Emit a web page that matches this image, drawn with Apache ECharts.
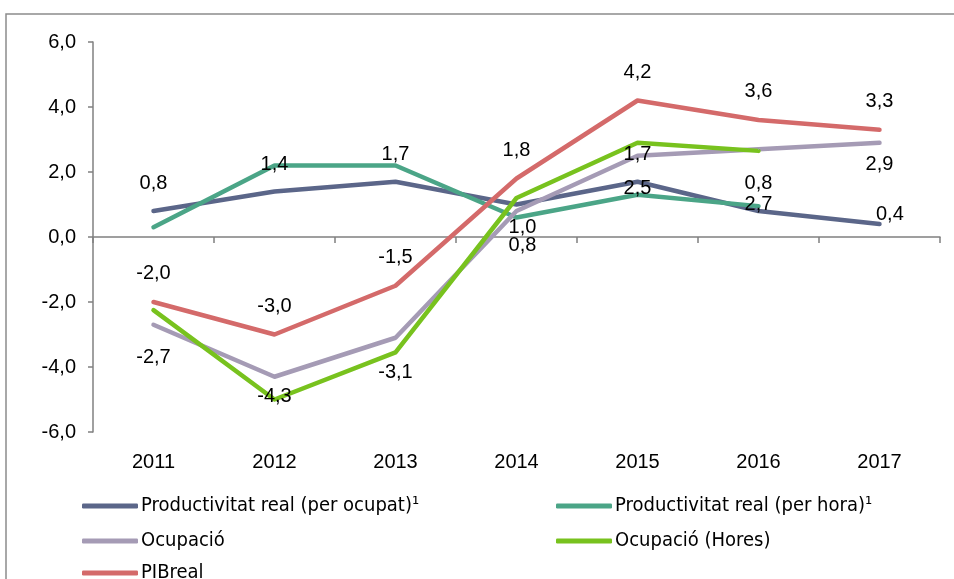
<!DOCTYPE html>
<html>
<head>
<meta charset="utf-8">
<script src="https://cdn.jsdelivr.net/npm/echarts@6/dist/echarts.min.js"></script>
<style>
  html, body { margin: 0; padding: 0; background: #fff; }
  #chartDom { width: 954px; height: 579px; }
</style>
</head>
<body>
<div id="chartDom"></div>
<script>
// dades
var years = ['2011', '2012', '2013', '2014', '2015', '2016', '2017'];
var prodOcupat = [0.8, 1.4, 1.7, 1.0, 1.7, 0.8, 0.4];
var prodHora = [0.3, 2.2, 2.2, 0.6, 1.3, 0.95, null];
var ocupacio = [-2.7, -4.3, -3.1, 0.8, 2.5, 2.7, 2.9];
var ocupacioHores = [-2.25, -5.0, -3.55, 1.2, 2.9, 2.65, null];
var pibReal = [-2.0, -3.0, -1.5, 1.8, 4.2, 3.6, 3.3];
var yTicks = [-6, -4, -2, 0, 2, 4, 6];

var noms = ['Productivitat real (per ocupat)¹', 'Productivitat real (per hora)¹', 'Ocupació', 'Ocupació (Hores)', 'PIBreal'];

function fmt(v) {
  return v.toFixed(1).replace('.', ',');
}

// etiquetes posades a mà (com a l'Excel)
function withLabels(values, pos, dist, special) {
  return values.map(function (v, i) {
    var item = { value: v };
    var s = special && special[i];
    if (s) {
      item.label = { position: s.position || pos, distance: s.distance != null ? s.distance : dist, offset: s.offset || [0, 0] };
    }
    return item;
  });
}

var labelFont = { color: '#000', fontSize: 20, fontFamily: 'Liberation Sans, Arial, sans-serif' };

function lineSeries(name, color, data, showLabel, pos, dist) {
  return {
    name: name,
    type: 'line',
    data: data,
    symbol: 'circle',
    symbolSize: 1,
    connectNulls: false,
    itemStyle: { color: color },
    lineStyle: { color: color, width: 4.5, cap: 'round', join: 'round' },
    label: Object.assign({
      show: showLabel,
      position: pos || 'top',
      distance: dist == null ? 17 : dist,
      formatter: function (p) { return fmt(p.value); }
    }, labelFont),
    emphasis: { disabled: true }
  };
}

// una llegenda per element, en dues columnes
function legendItem(name, left, top) {
  return {
    left: left, top: top, padding: 0,
    icon: 'roundRect', itemWidth: 56, itemHeight: 5,
    textStyle: { fontSize: 20, fontFamily: 'DejaVu Sans Condensed, Liberation Sans, sans-serif', color: '#000', padding: [0, 0, 0, -2] },
    data: [name]
  };
}

var chartDom = document.getElementById('chartDom');
var myChart = echarts.init(chartDom);
var option = {
  animation: false,
  graphic: [{
    type: 'rect',
    shape: { x: 6, y: 14, width: 1000, height: 700 },
    style: { fill: 'none', stroke: '#8c8c8c', lineWidth: 1.5 },
    silent: true
  }],
  grid: { left: 93, right: 14, top: 42, bottom: 147 },
  legend: [
    legendItem(noms[0], 82, 496),
    legendItem(noms[1], 556, 496),
    legendItem(noms[2], 82, 531),
    legendItem(noms[3], 556, 531),
    legendItem(noms[4], 82, 563)
  ],
  xAxis: [
    {
      type: 'category',
      data: years,
      boundaryGap: true,
      axisLine: { onZero: true, lineStyle: { color: '#808080', width: 1.5 } },
      axisTick: { show: true, inside: false, length: 6, lineStyle: { color: '#808080', width: 1.5 } },
      axisLabel: { show: false },
      splitLine: { show: false }
    },
    {
      type: 'category',
      data: years,
      position: 'bottom',
      boundaryGap: true,
      axisLine: { show: false, onZero: false },
      axisTick: { show: false },
      axisLabel: { margin: 20, color: '#000', fontSize: 20, fontFamily: 'Liberation Sans, Arial, sans-serif' },
      splitLine: { show: false }
    }
  ],
  yAxis: {
    type: 'value',
    min: yTicks[0],
    max: yTicks[yTicks.length - 1],
    interval: 2,
    axisLine: { show: true, lineStyle: { color: '#808080', width: 1.5 } },
    axisTick: { show: true, length: 5, lineStyle: { color: '#808080', width: 1.5 } },
    axisLabel: {
      margin: 17, color: '#000', fontSize: 20, fontFamily: 'Liberation Sans, Arial, sans-serif',
      formatter: function (v) { return fmt(v); }
    },
    splitLine: { show: false }
  },
  series: [
    lineSeries(noms[0], '#5b6689',
      withLabels(prodOcupat, 'top', 17, {
        3: { position: 'bottom', distance: 12, offset: [6, 0] },
        6: { position: 'right', distance: 0, offset: [-4, -10] }
      }), true, 'top', 17),
    lineSeries(noms[1], '#4ba587', prodHora, false),
    lineSeries(noms[2], '#a59bb5',
      withLabels(ocupacio, 'bottom', 22, {
        1: { distance: 9 },
        2: { distance: 24 },
        3: { distance: 24, offset: [6, 0] },
        5: { distance: 45 },
        6: { distance: 11 }
      }), true, 'bottom', 22),
    lineSeries(noms[3], '#78c21e', ocupacioHores, false),
    lineSeries(noms[4], '#d46a6a', withLabels(pibReal, 'top', 18), true, 'top', 18)
  ]
};
option && myChart.setOption(option);
</script>
</body>
</html>
